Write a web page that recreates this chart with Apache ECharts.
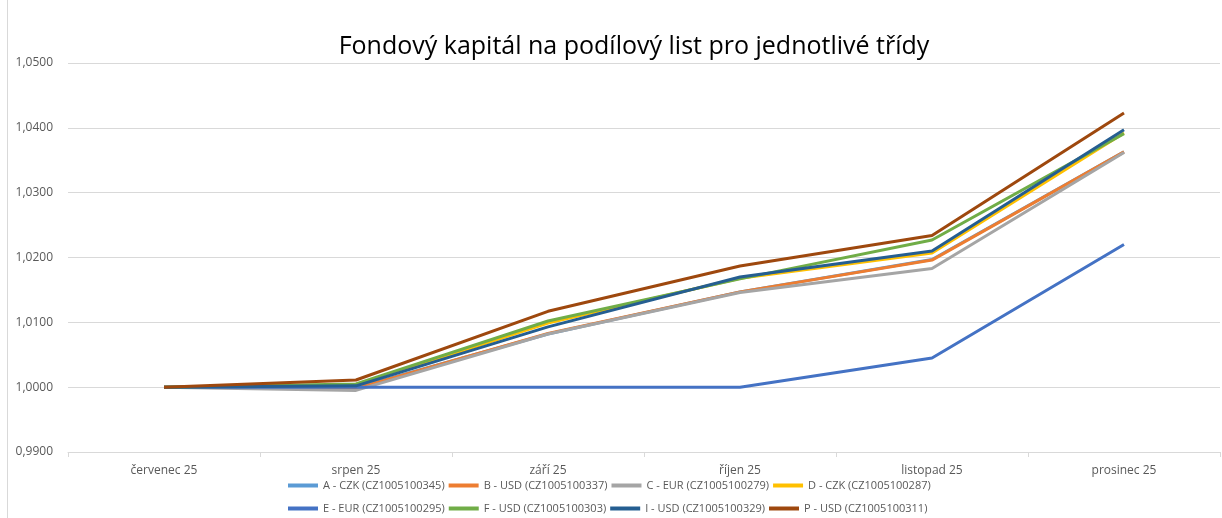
<!DOCTYPE html>
<html><head><meta charset="utf-8">
<script src="https://cdn.jsdelivr.net/npm/echarts@6/dist/echarts.min.js"></script>
<style>html,body{margin:0;padding:0;background:#fff}#c{width:1222px;height:518px}</style>
</head><body><div id="c"></div>
<script>
const categories = ["červenec 25","srpen 25","září 25","říjen 25","listopad 25","prosinec 25"];
const seriesNames = ["A - CZK (CZ1005100345)","B - USD (CZ1005100337)","C - EUR (CZ1005100279)","D - CZK (CZ1005100287)","E - EUR (CZ1005100295)","F - USD (CZ1005100303)","I - USD (CZ1005100329)","P - USD (CZ1005100311)"];
const seriesColors = ["#5B9BD5","#ED7D31","#A5A5A5","#FFC000","#4472C4","#70AD47","#255E91","#9E480E"];
const valuesA = [1.0000, 0.9999, 1.0082, 1.0147, 1.0197, 1.0363];
const valuesB = [1.0000, 0.9998, 1.0083, 1.0147, 1.0196, 1.0363];
const valuesC = [1.0000, 0.9995, 1.0082, 1.0146, 1.0183, 1.0362];
const valuesD = [1.0000, 1.0003, 1.0099, 1.0168, 1.0207, 1.0392];
const valuesE = [1.0000, 1.0000, 1.0000, 1.0000, 1.0045, 1.0220];
const valuesF = [1.0000, 1.0005, 1.0102, 1.0167, 1.0227, 1.0391];
const valuesI = [1.0000, 1.0002, 1.0093, 1.0170, 1.0210, 1.0397];
const valuesP = [1.0000, 1.0011, 1.0117, 1.0187, 1.0234, 1.0423];
const allValues = [valuesA, valuesB, valuesC, valuesD, valuesE, valuesF, valuesI, valuesP];
const yTicks = {min: 0.99, max: 1.05, interval: 0.01};

const font = "'Open Sans', 'Noto Sans', sans-serif";
const chart = echarts.init(document.getElementById('c'), null, {renderer: 'canvas'});
const legendText = {color: '#595959', fontSize: 11, fontFamily: font, width: 132, overflow: 'none'};
chart.setOption({
  animation: false,
  backgroundColor: '#ffffff',
  title: {
    text: 'Fondový kapitál na podílový list pro jednotlivé třídy',
    left: 629, textAlign: 'center', top: 29,
    textStyle: {color: '#000000', fontSize: 25, fontWeight: 'normal', fontFamily: font}
  },
  graphic: [{type: 'line', shape: {x1: 7.5, y1: 0, x2: 7.5, y2: 518}, style: {stroke: '#d9d9d9', lineWidth: 1}, silent: true}],
  legend: [
    {data: seriesNames.slice(0, 4), left: 283, top: 475, itemWidth: 30, itemHeight: 4, itemGap: 4, icon: 'rect', textStyle: legendText},
    {data: seriesNames.slice(4, 8), left: 283, top: 498, itemWidth: 30, itemHeight: 4, itemGap: 4, icon: 'rect', textStyle: legendText}
  ],
  grid: {left: 68, right: 2, top: 63, bottom: 66, containLabel: false},
  xAxis: {
    type: 'category', data: categories, boundaryGap: true,
    axisLine: {lineStyle: {color: '#d9d9d9', width: 1}},
    axisTick: {show: true, length: 5, lineStyle: {color: '#d9d9d9'}},
    axisLabel: {color: '#595959', fontSize: 12, fontFamily: font, margin: 13}
  },
  yAxis: {
    type: 'value', min: yTicks.min, max: yTicks.max, interval: yTicks.interval,
    axisLine: {show: false}, axisTick: {show: false},
    splitLine: {lineStyle: {color: '#d9d9d9', width: 1}},
    axisLabel: {color: '#595959', fontSize: 12, fontFamily: font, margin: 15,
      formatter: v => v.toFixed(4).replace('.', ',')}
  },
  series: seriesNames.map((n, i) => ({
    name: n, type: 'line', data: allValues[i], symbol: 'none',
    lineStyle: {width: 3, color: seriesColors[i]}, itemStyle: {color: seriesColors[i]}
  }))
});
</script></body></html>
